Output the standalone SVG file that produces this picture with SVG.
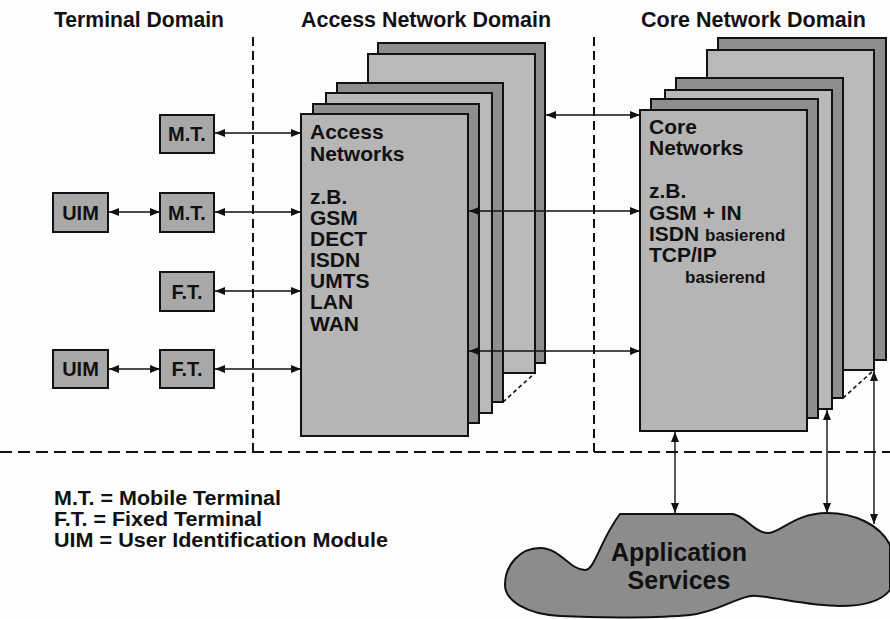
<svg xmlns="http://www.w3.org/2000/svg" width="890" height="619" viewBox="0 0 890 619">
<style>
.t{font-family:"Liberation Sans",Arial,sans-serif;font-weight:bold;fill:#111}
.hd{font-size:22px}
.lg{font-size:20px}
.net{font-size:21px}
.sm{font-size:17px}
.box{fill:#a8a8a8;stroke:#111;stroke-width:2}
.lt{fill:#b9b9b9;stroke:#111;stroke-width:2}
.dk{fill:#8e8e8e;stroke:#111;stroke-width:2}
.vd{stroke:#111;stroke-width:2;stroke-dasharray:9 5;fill:none}
.hdash{stroke:#111;stroke-width:2;stroke-dasharray:12 6;fill:none}
.cn{stroke:#111;stroke-width:1.4;fill:none;marker-start:url(#ah);marker-end:url(#ah)}
</style>
<defs>
<marker id="ah" viewBox="0 0 10 8" refX="10" refY="4" markerWidth="10" markerHeight="8" markerUnits="userSpaceOnUse" orient="auto-start-reverse">
<path d="M0,0 L10,4 L0,8 z" fill="#111"/>
</marker>
</defs>
<rect width="890" height="619" fill="#fdfdfd"/>

<g id="headers">
<text class="t hd" x="54" y="27" textLength="170" lengthAdjust="spacingAndGlyphs">Terminal Domain</text>
<text class="t hd" x="301" y="27" textLength="250" lengthAdjust="spacingAndGlyphs">Access Network Domain</text>
<text class="t hd" x="641" y="27" textLength="225" lengthAdjust="spacingAndGlyphs">Core Network Domain</text>
</g>

<g id="domain-lines">
<line class="vd" x1="253" y1="37" x2="253" y2="452"/>
<line class="vd" x1="594" y1="37" x2="594" y2="452"/>
<line class="hdash" x1="0" y1="452" x2="890" y2="452"/>
</g>

<g id="access-networks">
<rect class="dk" x="378" y="43" width="167" height="320"/>
<rect class="lt" x="368" y="54" width="167" height="319"/>
<rect class="dk" x="337" y="83" width="166" height="319"/>
<rect class="lt" x="326" y="93" width="166" height="320"/>
<rect class="dk" x="313" y="104" width="166" height="319"/>
<rect class="lt" x="301" y="114" width="167" height="322" style="fill:#b5b5b5"/>
<line x1="503" y1="402" x2="535" y2="373" stroke="#111" stroke-width="1.6" stroke-dasharray="4 3"/>
<text class="t net">
<tspan x="310" y="139">Access</tspan>
<tspan x="310" y="161">Networks</tspan>
<tspan x="310" y="204">z.B.</tspan>
<tspan x="310" y="225">GSM</tspan>
<tspan x="310" y="246">DECT</tspan>
<tspan x="310" y="267">ISDN</tspan>
<tspan x="310" y="288">UMTS</tspan>
<tspan x="310" y="309">LAN</tspan>
<tspan x="310" y="331">WAN</tspan>
</text>
</g>

<g id="core-networks">
<rect class="dk" x="718" y="38" width="168" height="322"/>
<rect class="lt" x="707" y="50" width="167" height="320"/>
<rect class="dk" x="676" y="78" width="167" height="320"/>
<rect class="lt" x="665" y="90" width="167" height="319"/>
<rect class="dk" x="651" y="99" width="167" height="319"/>
<rect class="lt" x="640" y="110" width="167" height="321" style="fill:#b5b5b5"/>
<line x1="843" y1="398" x2="874" y2="370" stroke="#111" stroke-width="1.6" stroke-dasharray="4 3"/>
<text class="t net">
<tspan x="649" y="134">Core</tspan>
<tspan x="649" y="155">Networks</tspan>
<tspan x="649" y="198">z.B.</tspan>
<tspan x="649" y="220">GSM + IN</tspan>
<tspan x="649" y="241">ISDN <tspan style="font-size:17px">basierend</tspan></tspan>
<tspan x="649" y="262">TCP/IP</tspan>
</text>
<text class="t sm" x="685" y="283">basierend</text>
</g>

<g id="mt1">
<rect class="box" x="160" y="115" width="54" height="38"/>
<text class="t" x="187" y="141" font-size="20" text-anchor="middle">M.T.</text>
</g>
<g id="uim1">
<rect class="box" x="53" y="193" width="55" height="39"/>
<text class="t" x="80.5" y="219.5" font-size="20" text-anchor="middle">UIM</text>
</g>
<g id="mt2">
<rect class="box" x="160" y="193" width="54" height="39"/>
<text class="t" x="187" y="219.5" font-size="20" text-anchor="middle">M.T.</text>
</g>
<g id="ft1">
<rect class="box" x="160" y="272" width="54" height="39"/>
<text class="t" x="187" y="298.5" font-size="20" text-anchor="middle">F.T.</text>
</g>
<g id="uim2">
<rect class="box" x="53" y="350" width="55" height="38"/>
<text class="t" x="80.5" y="376" font-size="20" text-anchor="middle">UIM</text>
</g>
<g id="ft2">
<rect class="box" x="160" y="350" width="54" height="38"/>
<text class="t" x="187" y="376" font-size="20" text-anchor="middle">F.T.</text>
</g>

<g id="application-services">
<path d="M620 514 L733 514 C745 516 755 533 768 533 C780 533 795 513 827 513 C855 513 880 525 890 545 L890 590 C880 603 860 606 840 606 C810 606 780 598 757 596 C740 594 720 612 690 615 C660 618 600 618 560 616 C525 614 505 600 505 585 C505 565 520 548 540 548 C560 548 570 570 585 570 C595 570 600 540 620 514 Z" fill="#8c8c8c" stroke="#111" stroke-width="2"/>
<text class="t" font-size="25" text-anchor="middle"><tspan x="679" y="561">Application</tspan><tspan x="679" y="589">Services</tspan></text>
</g>

<g id="legend">
<text class="t lg" x="54" y="505" textLength="227" lengthAdjust="spacingAndGlyphs">M.T. = Mobile Terminal</text>
<text class="t lg" x="54" y="526" textLength="208" lengthAdjust="spacingAndGlyphs">F.T. = Fixed Terminal</text>
<text class="t lg" x="54" y="547" textLength="334" lengthAdjust="spacingAndGlyphs">UIM = User Identification Module</text>
</g>

<g id="connectors">
<line class="cn" x1="215" y1="133" x2="301" y2="133"/>
<line class="cn" x1="109" y1="212" x2="160" y2="212"/>
<line class="cn" x1="215" y1="212" x2="301" y2="212"/>
<line class="cn" x1="215" y1="291" x2="301" y2="291"/>
<line class="cn" x1="109" y1="369" x2="160" y2="369"/>
<line class="cn" x1="215" y1="369" x2="301" y2="369"/>
<line class="cn" x1="546" y1="115" x2="640" y2="115"/>
<line class="cn" x1="469" y1="211" x2="640" y2="211"/>
<line class="cn" x1="469" y1="351" x2="640" y2="351"/>
<line class="cn" x1="675" y1="432" x2="675" y2="513"/>
<line class="cn" x1="827" y1="410" x2="827" y2="513"/>
<line class="cn" x1="874" y1="371" x2="874" y2="524"/>
</g>
</svg>
